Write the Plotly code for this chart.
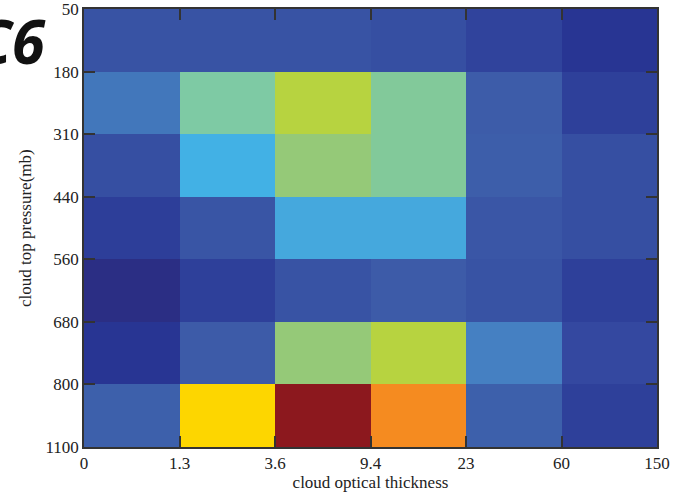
import plotly.graph_objects as go

# Tick labels (bin edges)
tau_edges = ["0", "1.3", "3.6", "9.4", "23", "60", "150"]
ctp_edges = ["50", "180", "310", "440", "560", "680", "800", "1100"]

# Estimated relative frequency per cell (rows: top 50-180 ... bottom 800-1100; cols: tau bins)
freq = [
    [2.0, 2.0, 2.0, 1.8, 1.2, 0.5],
    [3.5, 5.9, 8.0, 6.0, 2.6, 1.0],
    [1.8, 5.3, 7.0, 6.0, 2.8, 1.8],
    [0.9, 2.1, 5.0, 5.0, 2.2, 1.8],
    [0.0, 1.0, 2.0, 2.5, 2.0, 1.0],
    [0.5, 2.5, 7.0, 8.0, 4.0, 1.5],
    [3.0, 9.0, 11.0, 10.0, 3.0, 1.0],
]

# colormap anchors (value, colour)
cmap_vals = [0.0, 0.5, 1.0, 1.5, 2.0, 2.5, 3.0, 3.5, 4.0, 5.0, 5.3, 5.9, 6.0, 7.0, 8.0, 9.0, 10.0, 11.0]
cmap_cols = ["#2b2e84", "#283593", "#2e409a", "#3448a0", "#3853a4", "#3d5ba8", "#3d60ab",
             "#4277bb", "#4580c2", "#45a8dd", "#42b1e5", "#7ecaa4", "#82c99a", "#95c978",
             "#b7d340", "#fdd600", "#f58b20", "#8c181e"]
vmax = cmap_vals[-1]
colorscale = [[v / vmax, c] for v, c in zip(cmap_vals, cmap_cols)]

ncol = len(tau_edges) - 1
nrow = len(ctp_edges) - 1

fig = go.Figure(go.Heatmap(
    z=freq,
    x=[i + 0.5 for i in range(ncol)],
    y=[j + 0.5 for j in range(nrow)],
    colorscale=colorscale,
    zmin=0, zmax=vmax,
    showscale=False,
    xgap=0, ygap=0,
))

axis_font = dict(family="Liberation Serif", size=17, color="#222")
fig.update_xaxes(
    range=[0, ncol], tickmode="array",
    tickvals=list(range(ncol + 1)), ticktext=tau_edges,
    ticks="inside", ticklen=11, tickwidth=1.5, tickcolor="#333",
    showline=True, linecolor="#333", linewidth=1.5, mirror="ticks",
    showgrid=False, zeroline=False, tickfont=axis_font, automargin=False,
    ticklabeloverflow="allow",
    title=dict(text="cloud optical thickness", font=axis_font, standoff=2),
)
fig.update_yaxes(
    range=[nrow, 0], tickmode="array",
    tickvals=list(range(nrow + 1)), ticktext=ctp_edges,
    ticks="inside", ticklen=11, tickwidth=1.5, tickcolor="#333",
    showline=True, linecolor="#333", linewidth=1.5, mirror="ticks",
    showgrid=False, zeroline=False, tickfont=axis_font, automargin=False,
    ticklabeloverflow="allow",
)

fig.add_annotation(
    text="cloud top pressure(mb)", xref="paper", yref="paper",
    x=-0.103, y=0.5, xanchor="center", yanchor="middle",
    textangle=-90, showarrow=False, font=axis_font,
)
fig.add_annotation(
    text="C6", xref="paper", yref="paper",
    x=-0.0628, y=0.927, xanchor="right", yanchor="middle",
    showarrow=False,
    font=dict(family="Open Sans", size=60, color="#111", weight="bold", style="italic"),
)

fig.update_layout(
    width=678, height=496,
    margin=dict(l=84, r=21, t=9, b=49),
    paper_bgcolor="white", plot_bgcolor="white",
)

fig.write_html("out.html", config={"displayModeBar": False},
               post_script="document.body.style.margin='0';")
